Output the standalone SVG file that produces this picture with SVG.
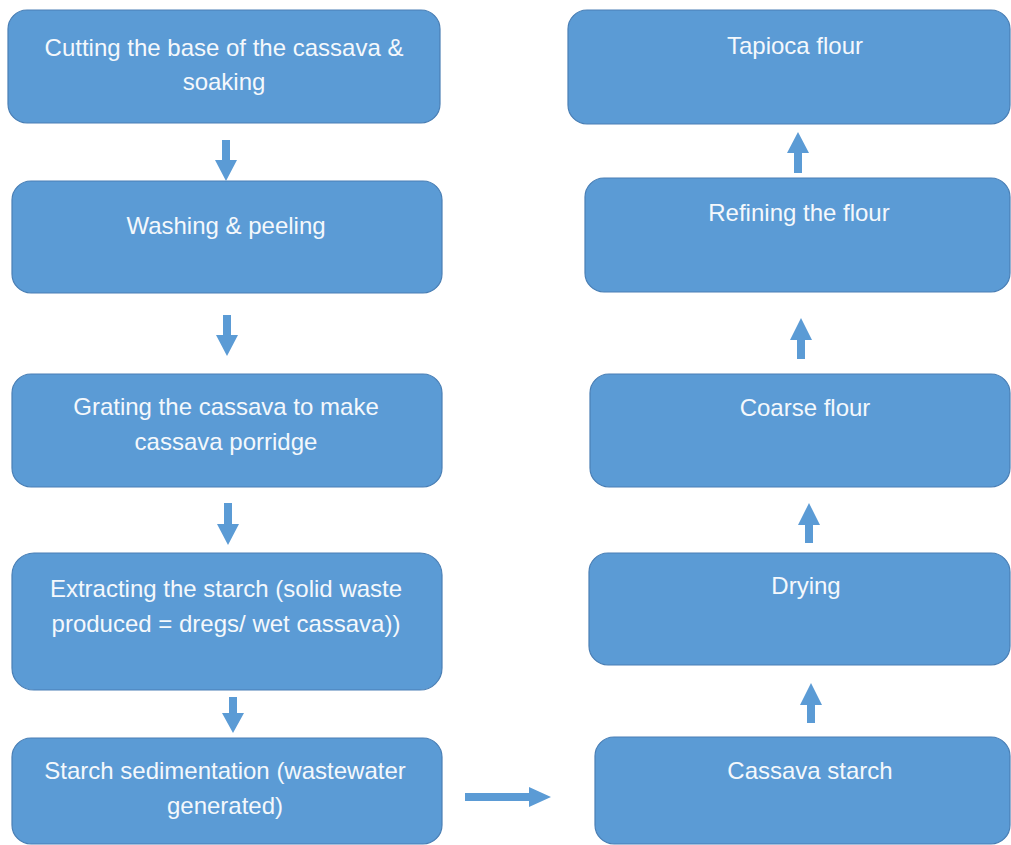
<svg xmlns="http://www.w3.org/2000/svg" width="1011" height="845" viewBox="0 0 1011 845">
<style>
.box{fill:#5b9bd5;stroke:#4a7fb5;stroke-width:1.2}
.lbl{font-family:"Liberation Sans",Arial,sans-serif;font-size:24px;fill:#f4f8fc;text-anchor:middle}
.arr{fill:#5b9bd5}
</style>
<rect width="1011" height="845" fill="#ffffff"/>
<g id="n1"><rect class="box" x="8" y="10" width="432" height="113" rx="19"/><text class="lbl" x="224" y="56">Cutting the base of the cassava &amp;</text><text class="lbl" x="224" y="90">soaking</text></g>
<g id="n2"><rect class="box" x="12" y="181" width="430" height="112" rx="19"/><text class="lbl" x="226" y="234">Washing &amp; peeling</text></g>
<g id="n3"><rect class="box" x="12" y="374" width="430" height="113" rx="19"/><text class="lbl" x="226" y="415">Grating the cassava to make</text><text class="lbl" x="226" y="450">cassava porridge</text></g>
<g id="n4"><rect class="box" x="12" y="553" width="430" height="137" rx="22"/><text class="lbl" x="226" y="597">Extracting the starch (solid waste</text><text class="lbl" x="226" y="632">produced = dregs/ wet cassava))</text></g>
<g id="n5"><rect class="box" x="12" y="738" width="430" height="106" rx="19"/><text class="lbl" x="225" y="779">Starch sedimentation (wastewater</text><text class="lbl" x="225" y="814">generated)</text></g>
<g id="n6"><rect class="box" x="568" y="10" width="442" height="114" rx="19"/><text class="lbl" x="795" y="54">Tapioca flour</text></g>
<g id="n7"><rect class="box" x="585" y="178" width="425" height="114" rx="19"/><text class="lbl" x="799" y="221">Refining the flour</text></g>
<g id="n8"><rect class="box" x="590" y="374" width="420" height="113" rx="19"/><text class="lbl" x="805" y="416">Coarse flour</text></g>
<g id="n9"><rect class="box" x="589" y="553" width="421" height="112" rx="19"/><text class="lbl" x="806" y="594">Drying</text></g>
<g id="n10"><rect class="box" x="595" y="737" width="415" height="107" rx="19"/><text class="lbl" x="810" y="779">Cassava starch</text></g>
<g id="connectors">
<polygon class="arr" points="222,140 230,140 230,160 237,160 226,181 215,160 222,160"/>
<polygon class="arr" points="223,315 231,315 231,335 238,335 227,356 216,335 223,335"/>
<polygon class="arr" points="224,503 232,503 232,524 239,524 228,545 217,524 224,524"/>
<polygon class="arr" points="229,697 237,697 237,713 244,713 233,733 222,713 229,713"/>
<polygon class="arr" points="794,173 802,173 802,153 809,153 798,132 787,153 794,153"/>
<polygon class="arr" points="797,359 805,359 805,340 812,340 801,318 790,340 797,340"/>
<polygon class="arr" points="805,543 813,543 813,525 820,525 809,503 798,525 805,525"/>
<polygon class="arr" points="807,723 815,723 815,705 822,705 811,683 800,705 807,705"/>
<polygon class="arr" points="465,793 529,793 529,787 551,797 529,807 529,801 465,801"/>
</g>
</svg>
